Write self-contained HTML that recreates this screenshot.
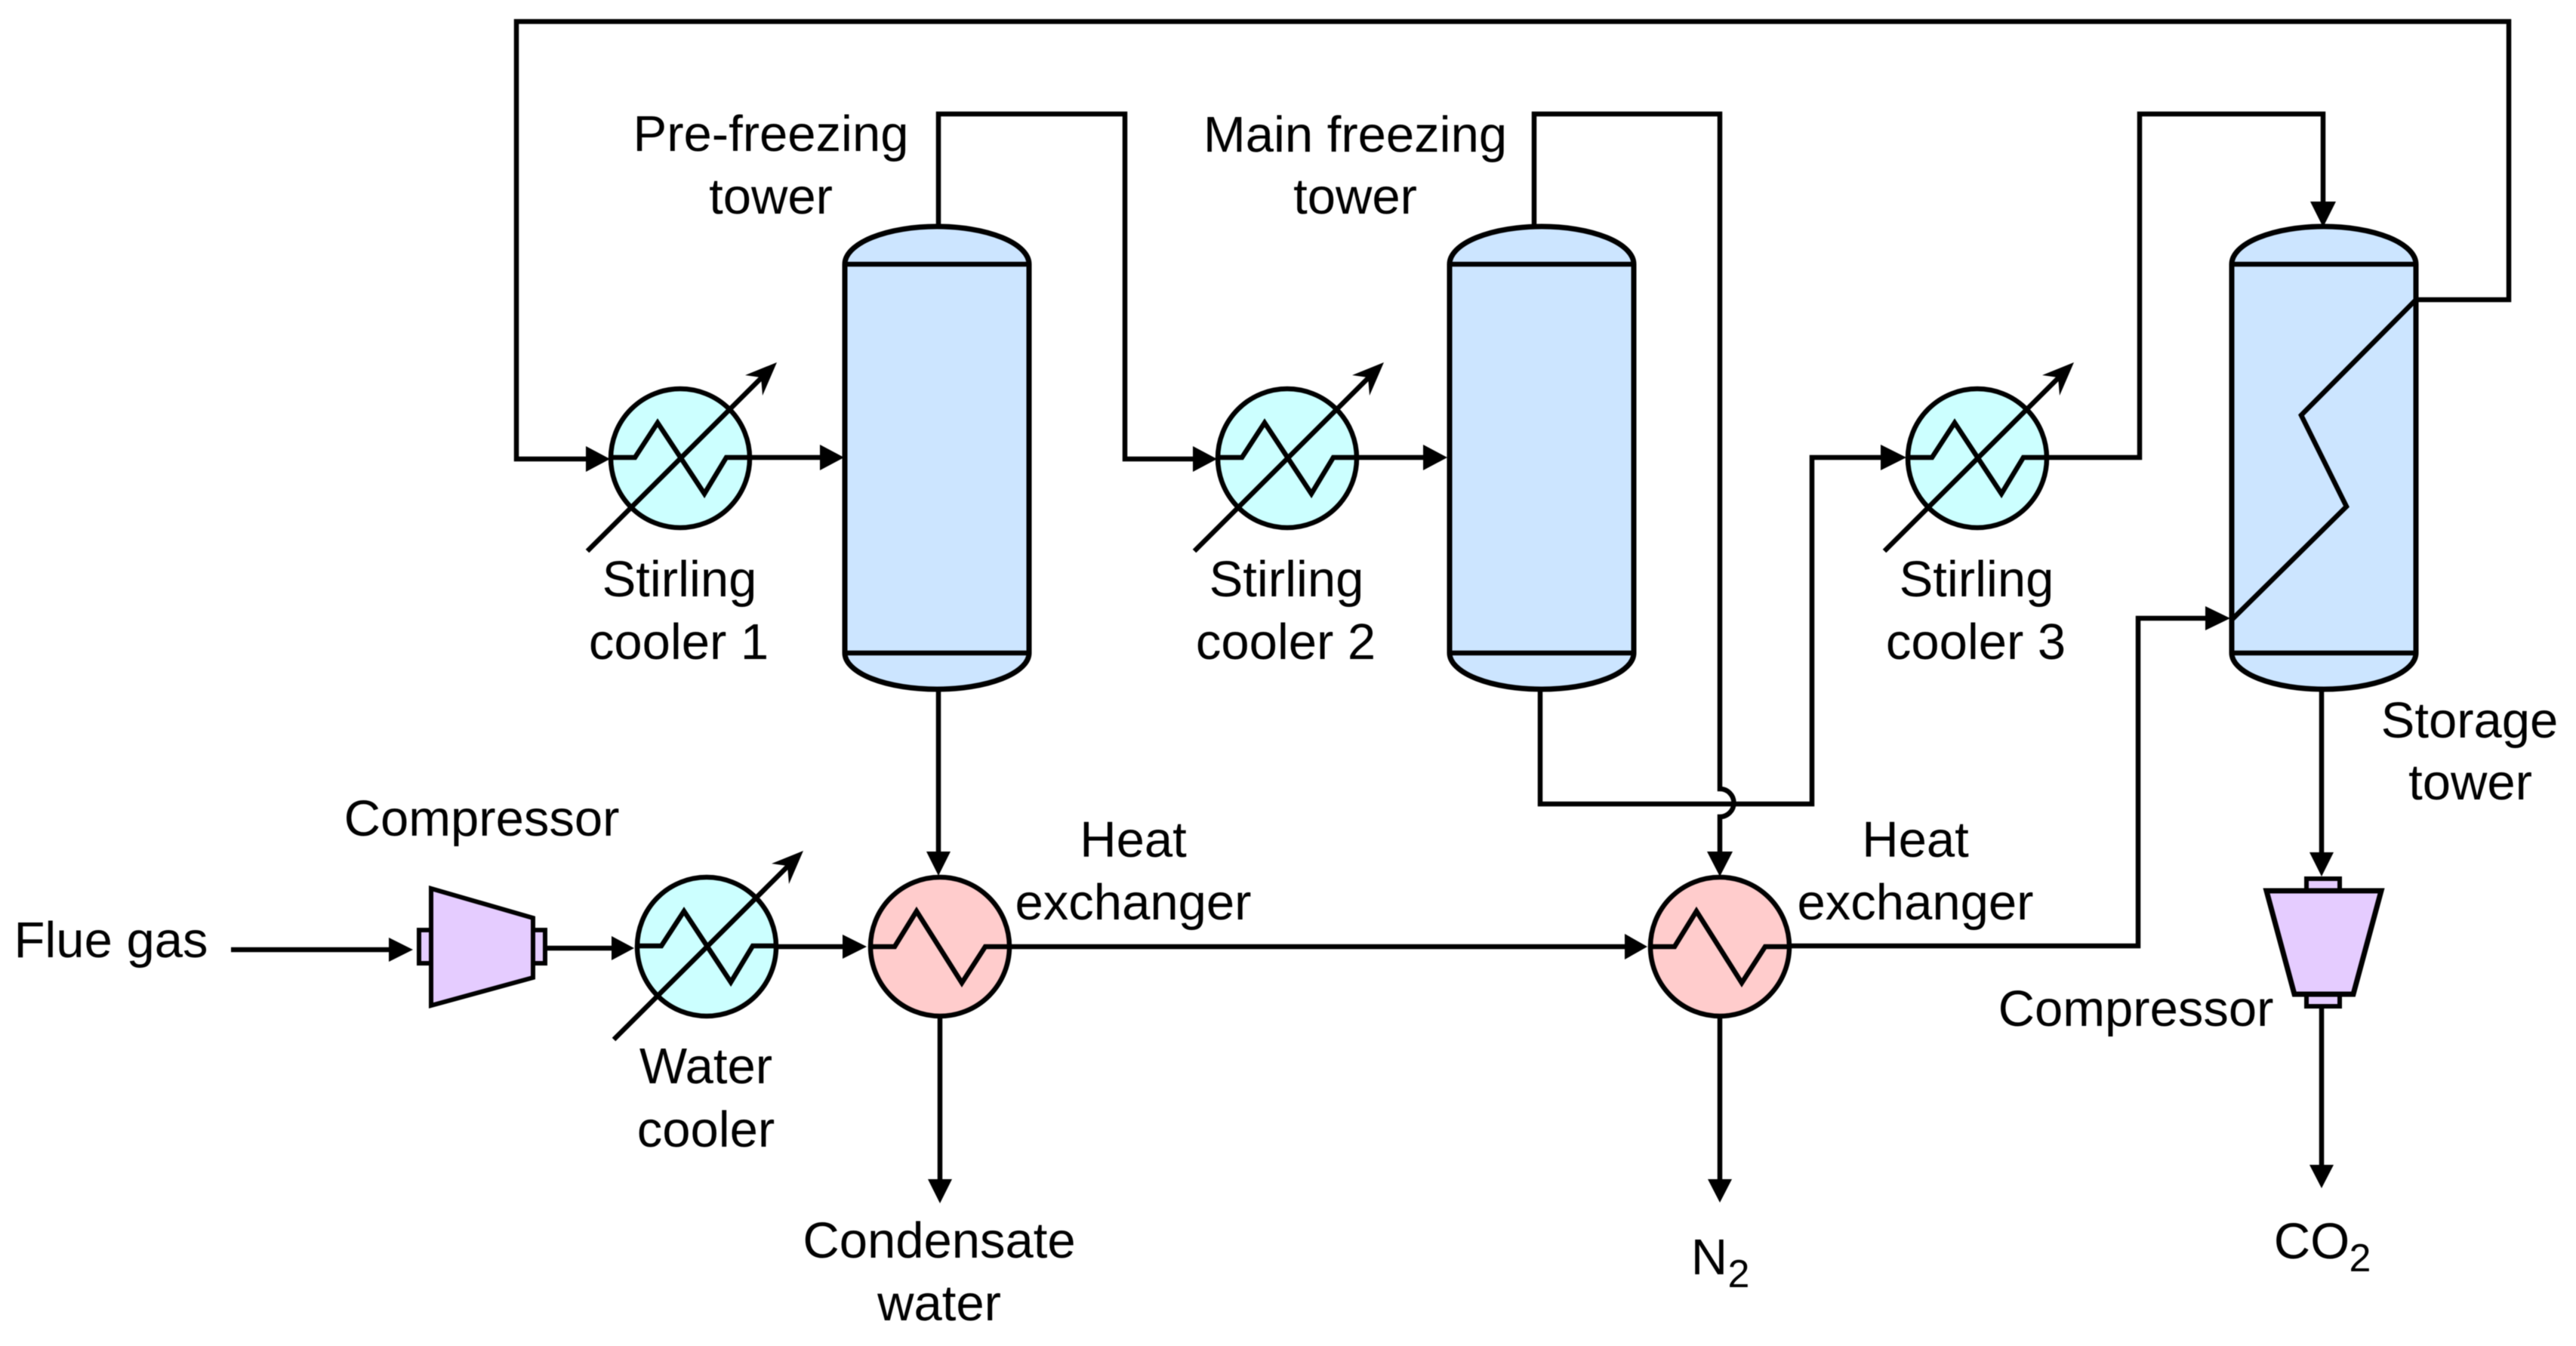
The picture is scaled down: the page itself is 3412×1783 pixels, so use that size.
<!DOCTYPE html>
<html><head><meta charset="utf-8"><style>
html,body{margin:0;padding:0;background:#fff}
svg{display:block;filter:blur(.6px)}
text{font-family:"Liberation Sans",Arial,sans-serif;font-size:67px;fill:#000;text-anchor:middle}
.s{font-size:52px}
.l{fill:none;stroke:#000;stroke-width:6.5;stroke-linejoin:miter}
</style></head><body>
<svg width="3412" height="1783" viewBox="0 0 3412 1783" xmlns="http://www.w3.org/2000/svg">
<defs>
<g id="cooler">
<circle r="92" fill="#CCFFFF" stroke="#000" stroke-width="6.5"/>
<path class="l" d="M-92 -1H-60L-30 -47L32 47L61 -1H92"/>
<path class="l" d="M-123 123L116 -115"/>
<polygon points="128,-127 86,-110 107,-107 109,-83"/>
</g>
<g id="hx">
<circle r="92" fill="#FFCCCC" stroke="#000" stroke-width="6.5"/>
<path class="l" d="M-92 0H-60L-31 -47L29 48L60 0H92"/>
</g>
<g id="tower">
<path d="M-122 50A122 50 0 0 1 122 50V565A122 48 0 0 1 -122 565Z" fill="#CCE5FF" stroke="#000" stroke-width="7"/>
<path class="l" d="M-122 50H122M-122 565H122"/>
</g>
</defs>

<!-- pipes -->
<path class="l" d="M3200 397H3323V28.5H684V608H780"/>
<path class="l" d="M1243 300V151H1490V608H1580"/>
<path class="l" d="M994 606H1090"/>
<path class="l" d="M1798 606H1895"/>
<path class="l" d="M2032 300V151H2278V1045A18 18 0 0 1 2278 1082V1135"/>
<path class="l" d="M2040 914V1065H2400V606H2500"/>
<path class="l" d="M2711 606H2834V151H3077V270"/>
<path class="l" d="M2370 1253H2832V819H2925"/>
<path class="l" d="M1243 913V1130"/>
<path class="l" d="M1338 1254H2155"/>
<path class="l" d="M1245 1346V1565"/>
<path class="l" d="M2278 1346V1565"/>
<path class="l" d="M3075 913V1132"/>
<path class="l" d="M3075 1333V1546"/>
<path class="l" d="M306 1258H520" stroke-width="8"/>
<path class="l" d="M722 1256H815" stroke-width="8"/>
<path class="l" d="M1028 1254H1120"/>

<!-- arrowheads -->
<polygon points="808,608 776,591 776,625"/>
<polygon points="1118,606 1086,589 1086,623"/>
<polygon points="1612,608 1580,591 1580,625"/>
<polygon points="1917,606 1885,589 1885,623"/>
<polygon points="2525,606 2491,589 2491,623"/>
<polygon points="3077,301 3060,267 3094,267"/>
<polygon points="2954,819 2921,803 2921,835"/>
<polygon points="547,1258 515,1242 515,1274"/>
<polygon points="840,1256 810,1240 810,1272"/>
<polygon points="1148,1254 1116,1238 1116,1270"/>
<polygon points="2182,1254 2152,1237 2152,1271"/>
<polygon points="1243,1160 1227,1128 1259,1128"/>
<polygon points="2278,1161 2261,1128 2295,1128"/>
<polygon points="1245,1594 1229,1562 1261,1562"/>
<polygon points="2278,1593 2262,1562 2294,1562"/>
<polygon points="3075,1161 3059,1129 3091,1129"/>
<polygon points="3075,1574 3059,1543 3091,1543"/>

<!-- towers -->
<use href="#tower" x="1241" y="300"/>
<use href="#tower" x="2042" y="300"/>
<use href="#tower" x="3078" y="300"/>
<path class="l" d="M3200 397L3048 550L3108 671L2956 821"/>

<!-- coolers / exchangers -->
<use href="#cooler" x="901" y="607"/>
<use href="#cooler" x="1705" y="607"/>
<use href="#cooler" x="2619" y="607"/>
<use href="#cooler" x="936" y="1254"/>
<use href="#hx" x="1245" y="1254"/>
<use href="#hx" x="2278" y="1254"/>

<!-- compressors -->
<g fill="#E5CCFF" stroke="#000" stroke-width="6">
<rect x="555" y="1232" width="16" height="44"/>
<rect x="706" y="1232" width="16" height="44"/>
<polygon points="571,1177 706,1216 706,1295 571,1332"/>
<rect x="3055" y="1164" width="44" height="16"/>
<rect x="3055" y="1317" width="44" height="16"/>
<polygon points="3002,1180 3154,1180 3117,1317 3039,1317" stroke-width="7"/>
</g>

<!-- labels -->
<text x="1021" y="200">Pre-freezing</text>
<text x="1021" y="283">tower</text>
<text x="1795" y="201">Main freezing</text>
<text x="1795" y="283">tower</text>
<text x="900" y="790">Stirling</text>
<text x="899" y="873">cooler 1</text>
<text x="1704" y="790">Stirling</text>
<text x="1703" y="873">cooler 2</text>
<text x="2618" y="790">Stirling</text>
<text x="2617" y="873">cooler 3</text>
<text x="3271" y="977">Storage</text>
<text x="3272" y="1059">tower</text>
<text x="638" y="1107">Compressor</text>
<text x="147" y="1268">Flue gas</text>
<text x="935" y="1435">Water</text>
<text x="935" y="1519">cooler</text>
<text x="1501" y="1135">Heat</text>
<text x="1501" y="1218">exchanger</text>
<text x="2537" y="1135">Heat</text>
<text x="2537" y="1218">exchanger</text>
<text x="1244" y="1666">Condensate</text>
<text x="1244" y="1749">water</text>
<text x="2829" y="1359">Compressor</text>
<text x="2264" y="1688">N</text><text class="s" x="2303" y="1705">2</text>
<text x="3062" y="1667">CO</text><text class="s" x="3126" y="1684">2</text>
</svg>
</body></html>
